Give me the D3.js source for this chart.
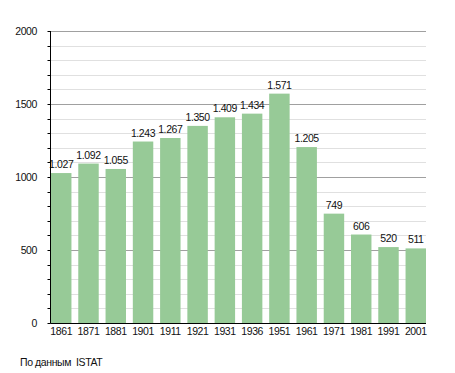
<!DOCTYPE html>
<html><head><meta charset="utf-8">
<script src="https://cdn.jsdelivr.net/npm/d3@7"></script>
<style>body{margin:0;background:#fff}svg{display:block;font-family:"Liberation Sans",Arial,sans-serif}svg text{letter-spacing:-0.4px}</style>
</head><body>
<svg id="c" width="455" height="373"></svg>
<script>
const years = ["1861","1871","1881","1901","1911","1921","1931","1936","1951","1961","1971","1981","1991","2001"];
const population = [1027,1092,1055,1243,1267,1350,1409,1434,1571,1205,749,606,520,511];
const yTicks = [0,500,1000,1500,2000];
const source = "По данным  ISTAT";

const svg = d3.select("#c");
const L = 50.5, R = 426, T = 31, B = 323;
const FS = 10.5;
const x = d3.scaleBand().domain(years).range([L+0.5, R]).paddingInner(0.25).paddingOuter(0);
const y = d3.scaleLinear().domain([0,2000]).range([B, T]);

// minor grid
svg.append("g").selectAll("line").data(d3.range(100,2001,100).filter(v=>v%500!==0))
  .join("line").attr("x1",L).attr("x2",R).attr("y1",d=>Math.round(y(d))+0.5).attr("y2",d=>Math.round(y(d))+0.5)
  .attr("stroke","#e0e0e0").attr("stroke-width",1);
// major grid
svg.append("g").selectAll("line").data(yTicks.filter(v=>v>0))
  .join("line").attr("x1",L).attr("x2",R).attr("y1",d=>Math.round(y(d))+0.5).attr("y2",d=>Math.round(y(d))+0.5)
  .attr("stroke","#a0a0a0").attr("stroke-width",1);

// bars
svg.append("g").selectAll("rect").data(years)
  .join("rect").attr("x",d=>x(d)).attr("width",x.bandwidth())
  .attr("y",(d,i)=>y(population[i])).attr("height",(d,i)=>B-y(population[i]))
  .attr("fill","#97ca97");

// value labels
const fmt = v => v >= 1000 ? Math.floor(v/1000)+"."+String(v%1000).padStart(3,"0") : String(v);
svg.append("g").selectAll("text").data(years)
  .join("text").attr("x",d=>x(d)+x.bandwidth()/2).attr("y",(d,i)=>y(population[i])-5)
  .attr("text-anchor","middle").attr("font-size",FS).attr("fill","#111")
  .text((d,i)=>fmt(population[i]));

// left axis minor ticks
svg.append("g").selectAll("line").data(d3.range(0,2001,100))
  .join("line").attr("x1",L-3).attr("x2",L).attr("y1",d=>Math.round(y(d))+0.5).attr("y2",d=>Math.round(y(d))+0.5)
  .attr("stroke","#000");
// axes lines
svg.append("line").attr("x1",L).attr("x2",L).attr("y1",T).attr("y2",B+0.5).attr("stroke","#000");
svg.append("line").attr("x1",L).attr("x2",R).attr("y1",B+0.5).attr("y2",B+0.5).attr("stroke","#000");

// y labels
svg.append("g").selectAll("text").data(yTicks)
  .join("text").attr("x",37).attr("y",d=>y(d)+4).attr("text-anchor","end")
  .attr("font-size",FS).attr("fill","#111").text(d=>d);

// x labels
svg.append("g").selectAll("text").data(years)
  .join("text").attr("x",d=>x(d)+x.bandwidth()/2).attr("y",335)
  .attr("text-anchor","middle").attr("font-size",FS).attr("fill","#111").text(d=>d);

svg.append("text").attr("x",20).attr("y",366).attr("font-size",FS).attr("fill","#111")
  .style("white-space","pre").text(source);
</script>
</body></html>
